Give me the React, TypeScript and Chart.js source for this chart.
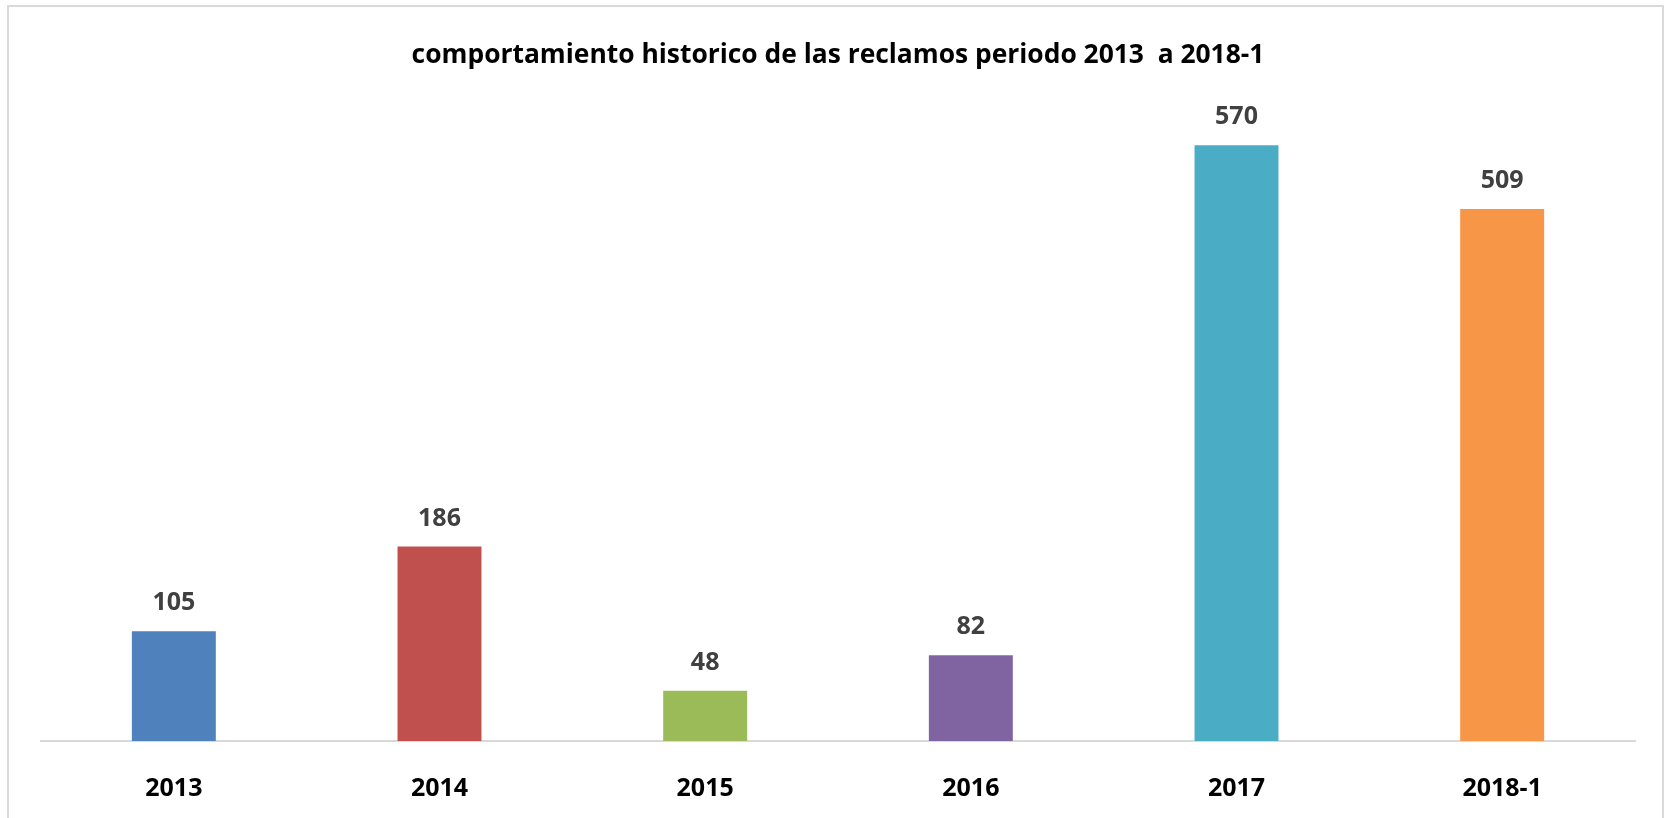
import React, { useEffect, useRef } from "react";
import { Chart, registerables } from "chart.js";

Chart.register(...registerables);

const categories = ["2013", "2014", "2015", "2016", "2017", "2018-1"];
const reclamos = [105, 186, 48, 82, 570, 509];
const barColors = ["#4F81BD", "#C0504D", "#9BBB59", "#8064A2", "#4BACC6", "#F79646"];
const titleText = "comportamiento historico de las reclamos periodo 2013  a 2018-1";

const FONT = "'Open Sans', 'Noto Sans', sans-serif";

const valueLabels = {
  id: "valueLabels",
  afterDatasetsDraw(chart: any) {
    const ctx = chart.ctx;
    const meta = chart.getDatasetMeta(0);
    ctx.save();
    ctx.font = `bold 25px ${FONT}`;
    ctx.fillStyle = "#404040";
    ctx.textAlign = "center";
    ctx.textBaseline = "alphabetic";
    meta.data.forEach((bar: any, i: number) => {
      ctx.fillText(String(reclamos[i]), bar.x, bar.y - 21);
    });
    ctx.restore();
  },
};

export default function App() {
  const ref = useRef<HTMLCanvasElement | null>(null);

  useEffect(() => {
    if (!ref.current) return;
    const chart = new Chart(ref.current, {
      type: "bar",
      data: {
        labels: categories,
        datasets: [
          {
            data: reclamos,
            backgroundColor: barColors,
            borderWidth: 0,
            barPercentage: 0.316,
            categoryPercentage: 1,
          },
        ],
      },
      options: {
        animation: false,
        responsive: false,
        maintainAspectRatio: false,
        layout: { padding: { left: 41, right: 36, top: 0, bottom: 0 } },
        plugins: {
          legend: { display: false },
          tooltip: { enabled: false },
          title: {
            display: true,
            text: titleText,
            color: "#000000",
            font: { family: FONT, size: 26.4, weight: "bold", lineHeight: 1.2 },
            padding: { top: 40, bottom: 42.3 },
          },
        },
        scales: {
          x: {
            grid: { display: false, drawTicks: false },
            border: { display: true, color: "#d9d9d9", width: 2 },
            ticks: {
              color: "#000000",
              font: { family: FONT, size: 25, weight: "bold", lineHeight: 1.2 },
              padding: 33,
              maxRotation: 0,
            },
            afterFit: (scale: any) => {
              scale.height = 77;
            },
          },
          y: {
            display: false,
            min: 0,
            max: 600,
          },
        },
      },
      plugins: [valueLabels],
    });
    return () => chart.destroy();
  }, []);

  return (
    <div style={{ position: "fixed", left: 0, top: 0, width: 1671, height: 818, background: "#ffffff", overflow: "hidden" }}>
      <canvas ref={ref} width={1671} height={818} style={{ position: "absolute", left: 0, top: 0, width: 1671, height: 818 }} />
      <div
        style={{
          position: "absolute",
          left: 7,
          top: 5,
          width: 1653,
          height: 900,
          border: "2px solid #d9d9d9",
          pointerEvents: "none",
        }}
      />
    </div>
  );
}
